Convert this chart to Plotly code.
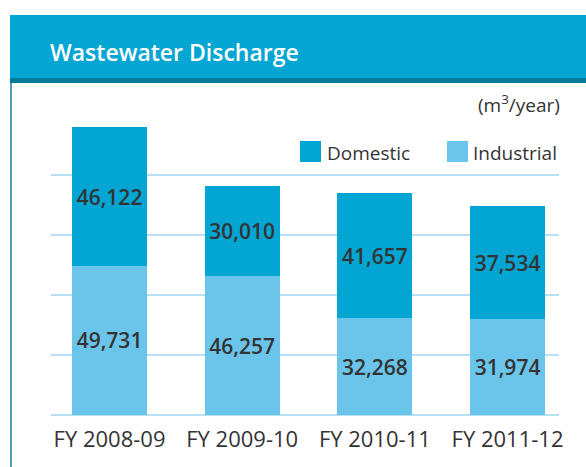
import plotly.graph_objects as go

# Wastewater discharge by fiscal year (m3/year)
years = ["FY 2008-09", "FY 2009-10", "FY 2010-11", "FY 2011-12"]
domestic = [46122, 30010, 41657, 37534]
industrial = [49731, 46257, 32268, 31974]

DOMESTIC_COLOR = "#03a6d3"
INDUSTRIAL_COLOR = "#6bc4e9"
GRID_COLOR = "#b8e0f5"
TEXT_COLOR = "#333333"
FONT = "Open Sans"

W, H = 586, 467
L, R, T, B = 51, 27, 115, 52
PW, PH = W - L - R, H - T - B


def fmt(v):
    return f"{v:,}"


label_font = dict(family=FONT, size=21, color=TEXT_COLOR, weight=600)

fig = go.Figure()
fig.add_trace(go.Bar(
    x=years, y=industrial, name="Industrial",
    marker=dict(color=INDUSTRIAL_COLOR, line=dict(width=0)),
    text=[fmt(v) for v in industrial], textposition="inside",
    insidetextanchor="middle", textangle=0, constraintext="none",
    textfont=label_font, width=0.565,
))
fig.add_trace(go.Bar(
    x=years, y=domestic, name="Domestic",
    marker=dict(color=DOMESTIC_COLOR, line=dict(width=0)),
    text=[fmt(v) for v in domestic], textposition="inside",
    insidetextanchor="middle", textangle=0, constraintext="none",
    textfont=label_font, width=0.565,
))


# pixel position -> paper coordinate (paper spans the plot area)
def px(x):
    return (x - L) / PW


def py(y):
    return (H - B - y) / PH


shapes = [
    # header band
    dict(type="rect", xref="paper", yref="paper", x0=px(10), x1=px(W + 5),
         y0=py(78), y1=py(15), fillcolor="#05a6d3", line=dict(width=0), layer="below"),
    dict(type="rect", xref="paper", yref="paper", x0=px(10), x1=px(W + 5),
         y0=py(83), y1=py(78), fillcolor="#007b9c", line=dict(width=0), layer="below"),
    # left frame line
    dict(type="line", xref="paper", yref="paper", x0=px(11), x1=px(11),
         y0=py(H + 5), y1=py(83), line=dict(color="#1a7d99", width=1.5)),
    # legend swatches
    dict(type="rect", xref="paper", yref="paper", x0=px(300), x1=px(321),
         y0=py(162), y1=py(141), fillcolor=DOMESTIC_COLOR, line=dict(width=0)),
    dict(type="rect", xref="paper", yref="paper", x0=px(447), x1=px(468),
         y0=py(162), y1=py(141), fillcolor=INDUSTRIAL_COLOR, line=dict(width=0)),
]

annotations = [
    dict(text="Wastewater Discharge", xref="paper", yref="paper",
         x=px(48), y=py(52), xanchor="left", yanchor="middle", showarrow=False,
         font=dict(family=FONT, size=23, color="white", weight=600)),
    dict(text="(m<sup>3</sup>/year)", xref="paper", yref="paper",
         x=px(562), y=py(104), xanchor="right", yanchor="middle", showarrow=False,
         font=dict(family=FONT, size=19, color=TEXT_COLOR)),
    dict(text="Domestic", xref="paper", yref="paper",
         x=px(325), y=py(153), xanchor="left", yanchor="middle", showarrow=False,
         font=dict(family=FONT, size=19, color=TEXT_COLOR)),
    dict(text="Industrial", xref="paper", yref="paper",
         x=px(471), y=py(153), xanchor="left", yanchor="middle", showarrow=False,
         font=dict(family=FONT, size=19, color=TEXT_COLOR)),
]

fig.update_layout(
    width=W, height=H,
    margin=dict(l=L, r=R, t=T, b=B, pad=0),
    paper_bgcolor="white", plot_bgcolor="white",
    barmode="stack", showlegend=False,
    shapes=shapes, annotations=annotations,
    xaxis=dict(range=[-0.441, 3.388], showgrid=False, zeroline=False,
               showline=False, ticks="", tickfont=dict(family=FONT, size=22, color=TEXT_COLOR),
               ticklabelstandoff=9),
    yaxis=dict(range=[0, 100000], tickvals=[0, 20000, 40000, 60000, 80000],
               showticklabels=False, showgrid=True, gridcolor=GRID_COLOR, gridwidth=2,
               zeroline=True, zerolinecolor=GRID_COLOR, zerolinewidth=2, showline=False),
)

fig.write_html("out.html")
